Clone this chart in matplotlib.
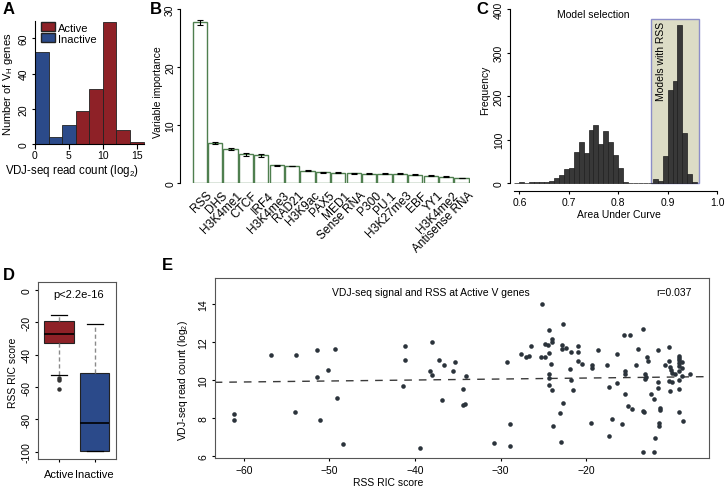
import matplotlib
matplotlib.use("Agg")
import matplotlib.pyplot as plt
import matplotlib.transforms as mtransforms
import numpy as np
from matplotlib.patches import Rectangle, Patch

plt.rcParams['font.family'] = ['Liberation Sans', 'DejaVu Sans']
plt.rcParams['font.size'] = 7.5
plt.rcParams['axes.linewidth'] = 0.8
plt.rcParams['xtick.major.size'] = 2.5
plt.rcParams['ytick.major.size'] = 2.5
plt.rcParams['xtick.major.pad'] = 2
plt.rcParams['ytick.major.pad'] = 2

W, H = 726, 489

# ---- A: VDJ-seq read count histogram
a_edges = [0, 2, 4, 6, 8, 10, 12, 14]
a_inactive = [52, 4, 11, 0, 0, 0, 0, 0]
a_active = [0, 0, 0, 19, 31, 69, 8, 1]

# ---- B: variable importance
b_names = ['RSS', 'DHS', 'H3K4me1', 'CTCF', 'IRF4', 'H3K4me3', 'RAD21', 'H3K9ac',
           'PAX5', 'MED1', 'Sense RNA', 'P300', 'PU.1', 'H3K27me3', 'EBF', 'YY1',
           'H3K4me2', 'Antisense RNA']
b_values = [27.7, 6.95, 5.9, 5.0, 4.85, 3.1, 3.0, 2.2, 1.9, 1.82, 1.7, 1.66,
            1.68, 1.68, 1.5, 1.32, 1.15, 0.92]
b_errors = [0.4, 0.15, 0.15, 0.3, 0.25, 0.1, 0.06, 0.05, 0.05, 0.05, 0.04, 0.04,
            0.04, 0.04, 0.04, 0.04, 0.04, 0.04]

# ---- C: AUC histogram
c_bins = np.arange(0.59, 0.955, 0.01)
c_counts = [1, 3, 1, 3, 4, 3, 3, 6, 12, 20, 33, 36, 72, 94, 70, 123, 134, 91,
            120, 95, 65, 35, 4, 1, 0, 1, 1, 0, 10, 6, 63, 214, 234, 364, 116, 22, 2]
c_rss_range = (0.866, 0.964)
c_rss_top = 377

# ---- D: RSS RIC score boxplots
d_labels = ['Active', 'Inactive']
d_whishi = [-15.3, -21.2]
d_q3 = [-19.0, -51.3]
d_med = [-27.0, -82.0]
d_q1 = [-33.0, -99.8]
d_whislo = [-52.5, -99.8]
d_fliers = [[-54.5, -55.5, -61.3], []]

# ---- E: scatter
e_x = [-61.2, -61.2, -56.8, -53.9, -54.05, -51.45, -51.45, -51.1, -50.2,
       -49.3, -49.1, -48.4, -41.2, -41.2, -41.4, -39.4, -38.05, -37.2, -36.65,
       -38.2, -38.05, -36.8, -35.3, -35.6, -34.0, -34.4, -34.4, -34.2, -29.25,
       -28.9, -30.8, -28.9, -27.6, -27.0, -26.7, -26.4, -25.2, -25.3, -24.8,
       -24.85, -24.4, -24.45, -24.0, -23.95, -24.4, -24.15, -24.4, -24.4, -24.35,
       -24.0, -23.05, -23.85, -22.7, -22.85, -22.85, -22.4, -21.75, -21.9, -21.75,
       -21.5, -22.7, -22.9, -20.9, -20.9, -20.9, -20.5, -19.35, -19.35, -18.65,
       -19.45, -17.55, -16.4, -17.35, -16.4, -17.0, -17.35, -15.6, -14.85, -15.5,
       -15.15, -14.7, -15.8, -15.45, -15.45, -14.2, -14.0, -13.4, -13.4, -13.3,
       -13.4, -13.1, -13.0, -13.1, -12.9, -12.75, -12.45, -12.05, -12.1, -11.95,
       -11.65, -11.6, -11.6, -11.4, -11.4, -11.5, -11.5, -10.75,
       -10.35, -10.3, -10.2, -10.1, -10.0, -10.3, -10.0, -10.2, -9.6, -9.2,
       -9.2, -9.2, -9.2, -9.1, -9.2, -9.2, -9.2, -9.2, -8.75, -8.75, -8.75,
       -8.7, -7.9]
e_y = [8.18, 7.89, 11.31, 11.30, 8.31, 11.59, 10.14, 7.87, 10.52,
       11.63, 9.03, 6.63, 11.81, 11.05, 9.66, 6.41, 12.02, 11.05, 10.77,
       10.45, 10.24, 8.94, 10.96, 10.47, 10.21, 9.52, 8.66, 8.73, 10.94,
       7.69, 6.65, 6.51, 11.35, 11.22, 11.26, 11.79, 13.99, 11.21, 11.21,
       11.91, 12.62, 11.86, 12.16, 12.02, 11.42, 10.86, 10.30, 10.12, 9.73,
       9.47, 8.24, 7.55, 12.97, 11.86, 11.61, 11.68, 11.46, 10.58, 10.01,
       9.45, 8.80, 6.72, 11.81, 11.47, 10.98, 10.82, 10.79, 10.65, 11.55,
       7.71, 10.80, 11.38, 9.63, 9.85, 7.95, 7.04, 12.37, 12.37, 9.24,
       8.64, 8.45, 7.67, 10.45, 10.31, 10.77, 11.65, 12.69, 8.36, 8.29,
       6.19, 10.30, 10.15, 10.06, 11.19, 11.00, 9.26, 9.01, 6.19, 6.92,
       9.91, 9.57, 11.55, 8.53, 8.40, 7.74, 7.58, 10.79,
       11.75, 10.98, 10.66, 10.52, 10.36, 9.96, 9.87, 9.43, 10.31, 11.24,
       11.14, 11.03, 10.91, 10.75, 10.45, 9.99, 9.52, 8.29, 10.93, 10.63, 10.22,
       7.81, 10.29]
e_fit = (10.20, 0.0052)  # intercept, slope of dashed trend line
e_r = 'r=0.037'

RED = '#8e2127'
BLUE = '#2b4a8a'


def rect(l, t, r, b):
    return [l / W, 1 - b / H, (r - l) / W, (b - t) / H]


def ftext(x, y, s, **kw):
    return fig.text(x / W, 1 - y / H, s, **kw)


fig = plt.figure(figsize=(W / 100, H / 100), dpi=100)

# ================= A
ax = fig.add_axes(rect(35, 21.3, 147, 145))
ax.bar(a_edges, a_inactive, width=2, align='edge', color=BLUE, edgecolor='#222222', lw=0.6)
ax.bar(a_edges, a_active, width=2, align='edge', color=RED, edgecolor='#222222', lw=0.6)
ax.set_xlim(0, 16.5)
ax.set_ylim(0, 70.2)
for s in ['top', 'right']:
    ax.spines[s].set_visible(False)
ax.spines['left'].set_bounds(0, 70)
ax.spines['bottom'].set_bounds(0, 16)
ax.set_xticks([0, 5, 10, 15])
ax.set_yticks([0, 20, 40, 60])
ax.set_yticklabels(['0', '20', '40', '60'], rotation=90, va='center')
ax.tick_params(axis='x', length=3.5, pad=1)
ax.legend(handles=[Patch(facecolor=RED, edgecolor='#222222', label='Active'),
                   Patch(facecolor=BLUE, edgecolor='#222222', label='Inactive')],
          loc='upper left', bbox_to_anchor=(0.0, 1.03), frameon=False, fontsize=8,
          handlelength=1.3, handleheight=0.9, handletextpad=0.3, labelspacing=0.05,
          borderaxespad=0.1)
ftext(8, 84, 'Number of V$_\\mathregular{H}$ genes', rotation=90, ha='center', va='center',
      fontsize=8)
ftext(72, 171, 'VDJ-seq read count (log$_\\mathregular{2}$)', ha='center', va='center',
      fontsize=8.3)
ftext(3, 9, 'A', fontsize=12, fontweight='bold', va='center')

# ================= B
ax = fig.add_axes(rect(180, 10, 470, 184.3))
pos = np.arange(len(b_names))
ax.bar(pos, b_values, width=0.93, color='white', edgecolor='#4f7f4f', lw=1.0)
ax.errorbar(pos, b_values, yerr=b_errors, fmt='none', ecolor='black', elinewidth=0.8,
            capsize=2.5, capthick=0.8)
ax.set_xlim(-1.28, 17.55)
ax.set_ylim(0, 30)
for s in ['top', 'right', 'bottom']:
    ax.spines[s].set_visible(False)
ax.spines['left'].set_bounds(0, 30)
ax.set_yticks([0, 10, 20, 30])
ax.set_yticklabels(['0', '10', '20', '30'], rotation=90, va='center')
ax.tick_params(axis='y', pad=1)
ax.set_xticks(pos)
ax.set_xticklabels(b_names, rotation=45, ha='right', va='top', rotation_mode='anchor',
                   fontsize=8.6)
ax.tick_params(axis='x', length=0, pad=4)
off = mtransforms.ScaledTranslation(0.06, 0, fig.dpi_scale_trans)
for lab in ax.get_xticklabels():
    lab.set_transform(lab.get_transform() + off)
ftext(158, 92, 'Variable importance', rotation=90, ha='center', va='center')
ftext(150, 9, 'B', fontsize=12, fontweight='bold', va='center')

# ================= C
ax = fig.add_axes(rect(510, 10, 717, 192))
ax.add_patch(Rectangle((c_rss_range[0], 0), c_rss_range[1] - c_rss_range[0], c_rss_top,
                       facecolor='#dcdcc6', edgecolor='#8c8ec8', lw=1.0, zorder=0))
ax.bar(c_bins, c_counts, width=0.01, align='edge', color='#383838', edgecolor='#1e1e1e',
       lw=0.5, zorder=2)
ax.set_xlim(0.581, 1.0)
ax.set_ylim(-17.7, 400)
for s in ['top', 'right']:
    ax.spines[s].set_visible(False)
ax.spines['left'].set_bounds(0, 400)
ax.spines['bottom'].set_bounds(0.59, 1.0)
ax.set_xticks([0.6, 0.7, 0.8, 0.9, 1.0])
ax.set_xticklabels(['0.6', '0.7', '0.8', '0.9', '1.0'])
ax.set_yticks([0, 100, 200, 300, 400])
ax.set_yticklabels(['0', '100', '200', '300', '400'], rotation=90, va='center')
ax.text(0.886, 283, 'Models with RSS', rotation=90, ha='center', va='center', zorder=3)
ax.text(0.75, 388, 'Model selection', ha='center', va='center')
ftext(485, 90, 'Frequency', rotation=90, ha='center', va='center')
ftext(619, 215, 'Area Under Curve', ha='center', va='center')
ftext(476, 9, 'C', fontsize=12, fontweight='bold', va='center')

# ================= D
ax = fig.add_axes(rect(38, 283, 116, 460))
stats = []
for i in range(2):
    stats.append(dict(label=d_labels[i], med=d_med[i], q1=d_q1[i], q3=d_q3[i],
                      whislo=d_whislo[i], whishi=d_whishi[i], fliers=d_fliers[i]))
bp = ax.bxp(stats, positions=[1, 2], widths=0.83, patch_artist=True, capwidths=0.45,
            boxprops=dict(edgecolor='#222222', lw=0.8),
            medianprops=dict(color='black', lw=1.2),
            whiskerprops=dict(color='#8a8a8a', lw=1.0, linestyle=(0, (3, 2))),
            capprops=dict(color='black', lw=0.9),
            flierprops=dict(marker='o', markersize=2.2, markerfacecolor='#333333',
                            markeredgecolor='#333333'))
bp['boxes'][0].set_facecolor(RED)
bp['boxes'][1].set_facecolor(BLUE)
ax.set_xlim(0.41, 2.6)
ax.set_ylim(-104.5, 4.9)
for s in ax.spines.values():
    s.set_color('#555555')
ax.set_yticks([0, -20, -40, -60, -80, -100])
ax.set_yticklabels(['0', '-20', '-40', '-60', '-80', '-100'], rotation=90, va='center')
ax.set_xticks([1, 2])
ax.set_xticklabels(d_labels, fontsize=8)
ax.tick_params(axis='x', pad=5)
ax.text(1.55, -2.5, 'p<2.2e-16', ha='center', va='center', fontsize=8)
ftext(13, 373, 'RSS RIC score', rotation=90, ha='center', va='center')
ftext(3, 275, 'D', fontsize=12, fontweight='bold', va='center')

# ================= E
ax = fig.add_axes(rect(214.7, 279.3, 709, 459.3))
ax.set_xlim(-63.4, -5.65)
ax.set_ylim(5.86, 15.36)
xs = np.array(ax.get_xlim())
ax.plot(xs, e_fit[0] + e_fit[1] * xs, color='#3a3a3a', lw=1.0, linestyle=(0, (5.5, 5)))
ax.plot(e_x, e_y, 'o', color='#2b333b', markersize=3.3, markeredgewidth=0)
for s in ax.spines.values():
    s.set_color('#555555')
ax.set_xticks([-60, -50, -40, -30, -20])
ax.set_xticklabels(['\u221260', '\u221250', '\u221240', '\u221230', '\u221220'])
ax.set_yticks([6, 8, 10, 12, 14])
ax.set_yticklabels(['6', '8', '10', '12', '14'], rotation=90, va='center')
ax.text(-38.1, 14.64, 'VDJ-seq signal and RSS at Active V genes', ha='center', va='center')
ax.text(-7.65, 14.64, e_r, ha='right', va='center')
ftext(183.5, 380, 'VDJ-seq read count (log$_\\mathregular{2}$)', rotation=90, ha='center', va='center')
ftext(388, 483, 'RSS RIC score', ha='center', va='center')
ftext(162, 265, 'E', fontsize=12, fontweight='bold', va='center')

fig.savefig('out.png', dpi=100)
